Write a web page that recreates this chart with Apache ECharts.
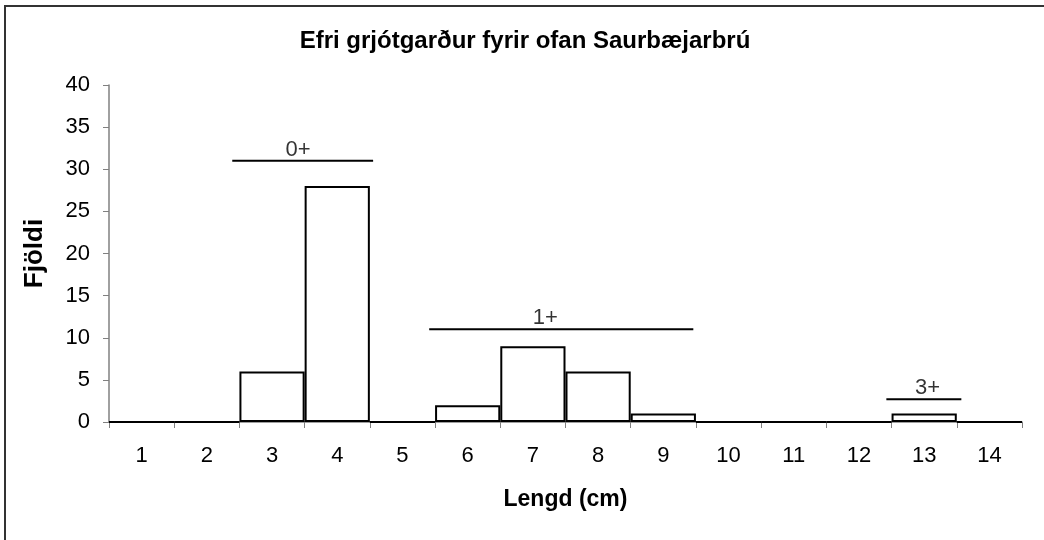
<!DOCTYPE html>
<html>
<head>
    <meta charset="utf-8">
    <script src="https://cdn.jsdelivr.net/npm/echarts@6/dist/echarts.min.js"></script>
    <style>
        html, body { margin: 0; padding: 0; background: #fff; }
        #main { width: 1044px; height: 540px; }
    </style>
</head>
<body>
    <div id="main"></div>
    <script>
        // lengdarflokkar og fjöldi
        var categories = ['1', '2', '3', '4', '5', '6', '7', '8', '9', '10', '11', '12', '13', '14'];
        var counts = [0, 0, 6, 28, 0, 2, 9, 6, 1, 0, 0, 0, 1, 0];
        var yTicks = [0, 5, 10, 15, 20, 25, 30, 35, 40];

        // aldurshópar: [byrjun, endir, hæð] á kvarða 0..14
        var groupNames = ['0+', '1+', '3+'];
        var groupStart = [1.89, 4.91, 11.92];
        var groupEnd = [4.05, 8.96, 13.07];
        var groupLevel = [31, 11, 2.7];
        var groupLabelX = [2.9, 6.69, 12.55];

        var chart = echarts.init(document.getElementById('main'));

        var font = 'Liberation Sans, Arial, sans-serif';
        var axisGray = '#808080';

        var lineSeries = [];
        groupNames.forEach(function (name, i) {
            lineSeries.push({
                type: 'line',
                xAxisIndex: 1,
                data: [[groupStart[i], groupLevel[i]], [groupEnd[i], groupLevel[i]]],
                symbol: 'none',
                lineStyle: { color: '#000', width: 2 },
                silent: true,
                z: 5
            });
            lineSeries.push({
                type: 'scatter',
                xAxisIndex: 1,
                data: [[groupLabelX[i], groupLevel[i]]],
                symbolSize: 0,
                label: {
                    show: true,
                    position: 'top',
                    distance: 0,
                    formatter: name,
                    color: '#000',
                    fontFamily: font,
                    fontSize: 22
                },
                silent: true,
                z: 5
            });
        });

        var option = {
            animation: false,
            backgroundColor: '#fff',
            title: {
                text: 'Efri grjótgarður fyrir ofan Saurbæjarbrú',
                left: 520,
                textAlign: 'center',
                top: 24,
                textStyle: { fontFamily: font, fontSize: 24, fontWeight: 'bold', color: '#000' }
            },
            graphic: [{
                type: 'rect',
                shape: { x: 5, y: 6, width: 1100, height: 600 },
                style: { fill: 'none', stroke: '#333', lineWidth: 2 },
                silent: true
            }],
            grid: { left: 109, right: 22, top: 85, bottom: 118 },
            xAxis: [{
                type: 'category',
                data: categories,
                name: 'Lengd (cm)',
                nameLocation: 'middle',
                nameGap: 66,
                nameTextStyle: { fontFamily: font, fontSize: 23, fontWeight: 'bold', color: '#000' },
                axisLine: { lineStyle: { color: axisGray, width: 1.5 } },
                axisTick: { show: true, alignWithLabel: false, length: 6, lineStyle: { color: axisGray } },
                axisLabel: { fontFamily: font, fontSize: 22, color: '#000', margin: 23 },
                splitLine: { show: false }
            }, {
                type: 'value',
                min: 0,
                max: 14,
                show: false
            }],
            yAxis: {
                type: 'value',
                min: 0,
                max: 40,
                interval: 5,
                name: 'Fjöldi',
                nameLocation: 'middle',
                nameGap: 61,
                nameRotate: 90,
                nameTextStyle: { fontFamily: font, fontSize: 26, fontWeight: 'bold', color: '#000' },
                axisLine: { show: true, lineStyle: { color: axisGray, width: 1.5 } },
                axisTick: { show: true, length: 6, lineStyle: { color: axisGray } },
                axisLabel: {
                    fontFamily: font, fontSize: 22, color: '#000', margin: 19,
                    formatter: function (v) { return yTicks.indexOf(v) >= 0 ? String(v) : ''; }
                },
                splitLine: { show: false }
            },
            series: [{
                type: 'bar',
                data: counts,
                barCategoryGap: '0%',
                itemStyle: { color: '#fff', borderColor: '#000', borderWidth: 2 },
                silent: true,
                z: 3
            }].concat(lineSeries)
        };

        chart.setOption(option);
    </script>
</body>
</html>
